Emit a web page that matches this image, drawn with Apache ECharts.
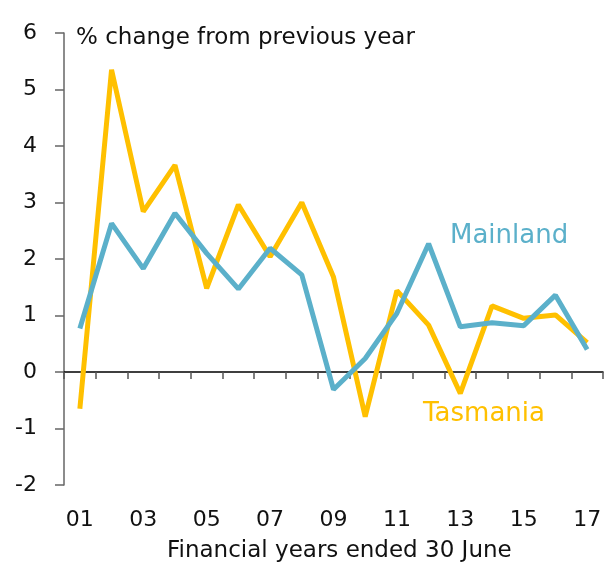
<!DOCTYPE html>
<html>
<head>
<meta charset="utf-8">
<script src="https://cdn.jsdelivr.net/npm/echarts@6/dist/echarts.min.js"></script>
<style>
  html, body { margin: 0; padding: 0; background: #fff; }
  #chart { width: 606px; height: 567px; }
</style>
</head>
<body>
<div id="chart"></div>
<script>
// Financial years ended 30 June, % change from previous year
const years = ['01', '02', '03', '04', '05', '06', '07', '08', '09',
  '10', '11', '12', '13', '14', '15', '16', '17'];
const tasmania = [-0.65, 5.35, 2.84, 3.66, 1.48, 2.96, 2.04, 3.0, 1.68,
  -0.79, 1.44, 0.83, -0.38, 1.17, 0.95, 1.01, 0.52];
const mainland = [0.77, 2.63, 1.83, 2.81, 2.1, 1.47, 2.19, 1.72, -0.31,
  0.24, 1.04, 2.27, 0.8, 0.87, 0.82, 1.36, 0.4];

const font = 'DejaVu Sans';
const gold = '#FFC000';
const blue = '#5BB0CA';

const chart = echarts.init(document.getElementById('chart'));
chart.setOption({
  animation: false,
  grid: { left: 64, right: 3, top: 33, bottom: 82 },
  xAxis: [
    {
      type: 'category',
      data: years,
      axisLine: { onZero: true, lineStyle: { color: '#000', width: 1.5 } },
      axisTick: { show: true, length: 7, lineStyle: { color: '#555', width: 1.5 } },
      axisLabel: { show: false },
      splitLine: { show: false }
    },
    {
      type: 'category',
      data: years,
      position: 'bottom',
      axisLine: { show: false, onZero: false },
      axisTick: { show: false },
      axisLabel: { interval: 1, margin: 24, fontFamily: font, fontSize: 22, color: '#111' },
      splitLine: { show: false }
    }
  ],
  yAxis: {
    type: 'value',
    min: -2,
    max: 6,
    interval: 1,
    axisLine: { show: true, lineStyle: { color: '#666', width: 1.5 } },
    axisTick: { show: true, length: 9, lineStyle: { color: '#666', width: 1.5 } },
    axisLabel: { margin: 27, fontFamily: font, fontSize: 22, color: '#111' },
    splitLine: { show: false }
  },
  graphic: [
    { type: 'text', left: 76, top: 27,
      style: { text: '% change from previous year', font: '23px "DejaVu Sans"', fill: '#111' } },
    { type: 'text', left: 167, top: 540,
      style: { text: 'Financial years ended 30 June', font: '23px "DejaVu Sans"', fill: '#111' } },
    { type: 'text', left: 450, top: 223,
      style: { text: 'Mainland', font: '26px "DejaVu Sans"', fill: blue } },
    { type: 'text', left: 423, top: 401,
      style: { text: 'Tasmania', font: '26px "DejaVu Sans"', fill: gold } }
  ],
  series: [
    {
      name: 'Tasmania',
      type: 'line',
      data: tasmania,
      symbol: 'none',
      lineStyle: { color: gold, width: 5 },
      z: 2
    },
    {
      name: 'Mainland',
      type: 'line',
      data: mainland,
      symbol: 'none',
      lineStyle: { color: blue, width: 5 },
      z: 3
    }
  ]
});
</script>
</body>
</html>
